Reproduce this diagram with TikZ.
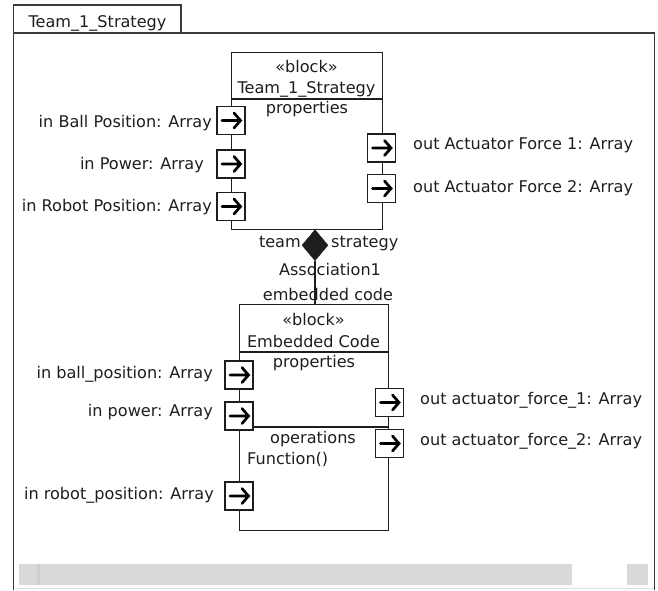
\documentclass[tikz,border=0pt]{standalone}
\usepackage{fontspec}
\setmainfont{DejaVu Sans}
\usetikzlibrary{shapes.geometric}
\definecolor{ink}{HTML}{1E1E1E}
\definecolor{framec}{HTML}{3A3A3A}
\definecolor{scrollc}{HTML}{D9D9D9}
\definecolor{thumbc}{HTML}{CDCDCD}
\begin{document}
\begin{tikzpicture}[x=1pt,y=-1pt,
  every node/.style={font=\fontsize{16.1}{18}\selectfont, text=ink, inner sep=0pt},
  blockbox/.style={draw=ink, line width=1.4pt, fill=white, anchor=north west},
  portbox/.style={draw=ink, fill=white, minimum width=28pt, minimum height=28pt, inner sep=0pt, line width=1.4pt,
    path picture={\draw[black, line width=2.7pt, line cap=round, line join=miter]
      ([xshift=-9pt]path picture bounding box.center) -- ([xshift=9.5pt]path picture bounding box.center)
      ([xshift=3pt,yshift=7.5pt]path picture bounding box.center) -- ([xshift=9.5pt]path picture bounding box.center)
      -- ([xshift=3pt,yshift=-7.5pt]path picture bounding box.center);}},
  inlabel/.style={anchor=base east},
  outlabel/.style={anchor=base west},
  divider/.style={draw=ink, line width=1.4pt},
  framel/.style={draw=framec, line width=1.8pt}
]
\useasboundingbox (0,0) rectangle (658,590);
% outer frame and tab
\draw[framel] (13.5,590) -- (13.5,33) -- (654.5,33) -- (654.5,590);
\draw[framel] (13.5,33) -- (13.5,5) -- (181,5) -- (181,33);
\node[anchor=base] (frametitle) at (97.5,27) {Team\_1\_Strategy};
% scrollbar
\fill[scrollc] (19,564) rectangle (572,585);
\fill[thumbc] (37,564) rectangle (40,585);
\fill[scrollc] (627,564) rectangle (648,585);
\draw[gray!25, line width=0.8pt] (14.5,588) -- (653.5,588);

% top block
\node[blockbox, minimum width=151pt, minimum height=177pt] (tb) at (231,52) {};
\draw[divider] (tb.west |- 0,99) -- (tb.east |- 0,99);
\node[anchor=base] (tbst) at (306.5,72) {«block»};
\node[anchor=base] (tbname) at (306.5,93) {Team\_1\_Strategy};
\node[anchor=base] (tbprop) at (307,113) {properties};

% top ports
\node[portbox] (tp1) at (231,120.5) {};
\node[portbox] (tp2) at (231,164) {};
\node[portbox] (tp3) at (231,206.5) {};
\node[portbox] (tp4) at (381.5,148) {};
\node[portbox] (tp5) at (381.5,188.5) {};
\node[inlabel] (tl1) at (212,127) {in Ball Position: Array};
\node[inlabel] (tl2) at (204,169) {in Power: Array};
\node[inlabel] (tl3) at (212,211) {in Robot Position: Array};
\node[outlabel] (tl4) at (413,149.5) {out Actuator Force 1: Array};
\node[outlabel] (tl5) at (413,192.5) {out Actuator Force 2: Array};

% bottom block
\node[blockbox, minimum width=149pt, minimum height=226pt] (eb) at (239,304) {};
\draw[divider] (eb.west |- 0,352) -- (eb.east |- 0,352);
\draw[divider] (eb.west |- 0,427) -- (eb.east |- 0,427);
\node[anchor=base] (ebst) at (313.5,325) {«block»};
\node[anchor=base] (ebname) at (313.5,347) {Embedded Code};
\node[anchor=base] (ebprop) at (314,367) {properties};
\node[anchor=base] (ebops) at (313,443) {operations};
\node[anchor=base west] (ebfun) at (247,464) {Function()};

% bottom ports
\node[portbox] (bp1) at (239,375) {};
\node[portbox] (bp2) at (239,416) {};
\node[portbox] (bp3) at (239,496) {};
\node[portbox] (bp4) at (389.5,402.5) {};
\node[portbox] (bp5) at (389.5,443.5) {};
\node[inlabel] (bl1) at (213,378) {in ball\_position: Array};
\node[inlabel] (bl2) at (213,416) {in power: Array};
\node[inlabel] (bl3) at (214,499) {in robot\_position: Array};
\node[outlabel] (bl4) at (420,404) {out actuator\_force\_1: Array};
\node[outlabel] (bl5) at (420,445) {out actuator\_force\_2: Array};

% composition association
\node[diamond, draw=ink, fill=ink, minimum width=26pt, minimum height=31pt, inner sep=0pt, anchor=north] (dia) at (315,229.5) {};
\draw[ink, line width=1.4pt] (dia.south) -- (dia.south |- eb.north);
\node[anchor=base east] (roleA) at (301,247) {team};
\node[anchor=base west] (roleB) at (331,247) {strategy};
\node[anchor=base] (assoc) at (330,275) {Association1};
\node[anchor=base] (roleC) at (328,300) {embedded code};
\end{tikzpicture}
\end{document}
